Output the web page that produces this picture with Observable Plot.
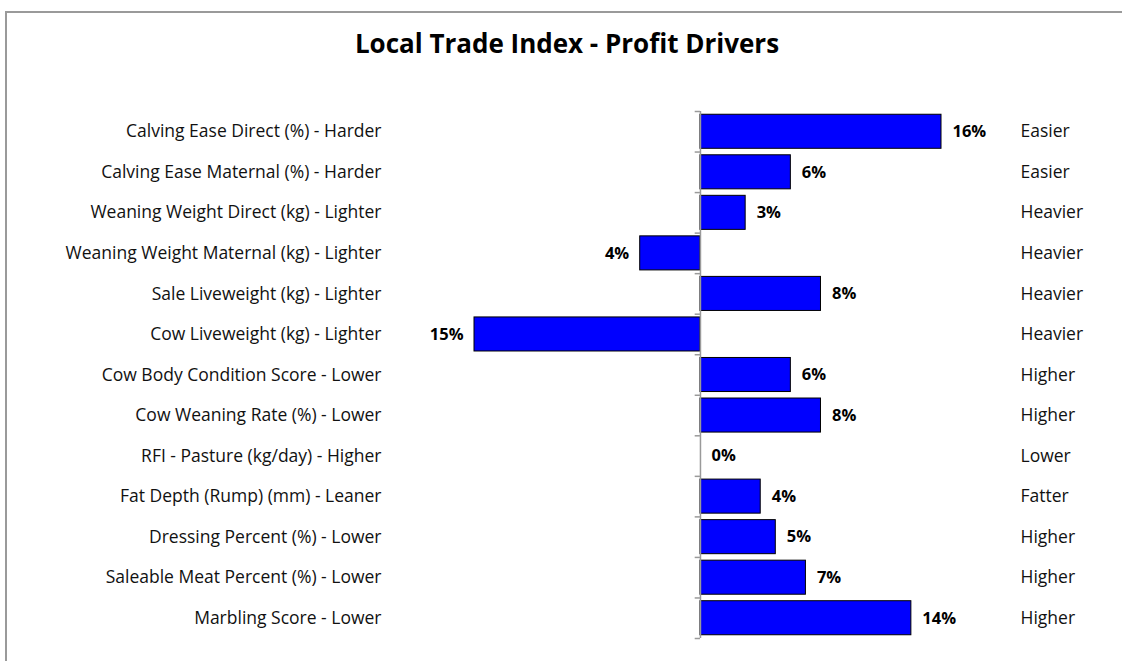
<!DOCTYPE html>
<html>
<head>
<meta charset="utf-8">
<script src="https://cdn.jsdelivr.net/npm/d3@7"></script>
<script src="https://cdn.jsdelivr.net/npm/@observablehq/plot@0.6"></script>
<style>
  html, body { margin: 0; padding: 0; background: #fff; }
  #wrap { position: relative; width: 1122px; height: 661px; overflow: hidden; font-family: "Open Sans", sans-serif; }
  #frame { position: absolute; left: 5px; top: 11px; width: 1200px; height: 700px; border-left: 2px solid #9a9a9a; border-top: 2px solid #9a9a9a; box-sizing: border-box; }
  #title { position: absolute; left: 6px; width: 1122px; top: 30px; line-height: 26px; text-align: center; font-size: 26px; font-weight: bold; color: #000; }
  #chart { position: absolute; left: 0; top: 0; }
</style>
</head>
<body>
<div id="wrap">
  <div id="frame"></div>
  <div id="title">Local Trade Index - Profit Drivers</div>
  <div id="chart"></div>
</div>
<script>
const traits = [
  "Calving Ease Direct (%) - Harder",
  "Calving Ease Maternal (%) - Harder",
  "Weaning Weight Direct (kg) - Lighter",
  "Weaning Weight Maternal (kg) - Lighter",
  "Sale Liveweight (kg) - Lighter",
  "Cow Liveweight (kg) - Lighter",
  "Cow Body Condition Score - Lower",
  "Cow Weaning Rate (%) - Lower",
  "RFI - Pasture (kg/day) - Higher",
  "Fat Depth (Rump) (mm) - Leaner",
  "Dressing Percent (%) - Lower",
  "Saleable Meat Percent (%) - Lower",
  "Marbling Score - Lower"
];
const rightLabels = [
  "Easier", "Easier", "Heavier", "Heavier", "Heavier", "Heavier",
  "Higher", "Higher", "Lower", "Fatter", "Higher", "Higher", "Higher"
];
const values = [16, 6, 3, -4, 8, -15, 6, 8, 0, 4, 5, 7, 14];

const data = traits.map((t, i) => ({trait: t, right: rightLabels[i], value: values[i]}));
const rightMap = new Map(data.map(d => [d.trait, d.right]));

const step = (661 - 111 - 23) / 13;
const labelStyle = {fontSize: 17.5, fill: "#111", label: null, tickSize: 0};
const valueStyle = {fontWeight: "bold", fontSize: 16.5, fill: "#000"};

const chart = Plot.plot({
  width: 1122,
  height: 661,
  marginTop: 111,
  marginBottom: 23,
  marginLeft: 474,
  marginRight: 181,
  style: {fontFamily: "Open Sans, sans-serif", background: "transparent", overflow: "visible"},
  x: {domain: [-15, 16], axis: null},
  y: {domain: traits, paddingInner: 0.16, paddingOuter: 0.08, round: false, axis: null},
  marks: [
    Plot.barX(data, {x: "value", y: "trait", fill: "#0000ff", stroke: "#000", strokeWidth: 1}),
    Plot.ruleX([0], {stroke: "#9a9a9a", strokeWidth: 1.5}),
    Plot.ruleY(traits, {y: d => d, x1: -0.35, x2: 0, dy: -step / 2, stroke: "#9a9a9a", strokeWidth: 1.5}),
    Plot.ruleY([traits[traits.length - 1]], {y: d => d, x1: -0.35, x2: 0, dy: step / 2, stroke: "#9a9a9a", strokeWidth: 1.5}),
    Plot.axisY({anchor: "left", tickPadding: 93, ...labelStyle}),
    Plot.axisY({anchor: "right", tickPadding: 79, ...labelStyle, tickFormat: d => rightMap.get(d)}),
    Plot.text(data.filter(d => d.value >= 0), {
      x: "value", y: "trait", text: d => Math.abs(d.value) + "%",
      textAnchor: "start", dx: 11, ...valueStyle
    }),
    Plot.text(data.filter(d => d.value < 0), {
      x: "value", y: "trait", text: d => Math.abs(d.value) + "%",
      textAnchor: "end", dx: -11, ...valueStyle
    })
  ]
});
document.getElementById("chart").appendChild(chart);
</script>
</body>
</html>
